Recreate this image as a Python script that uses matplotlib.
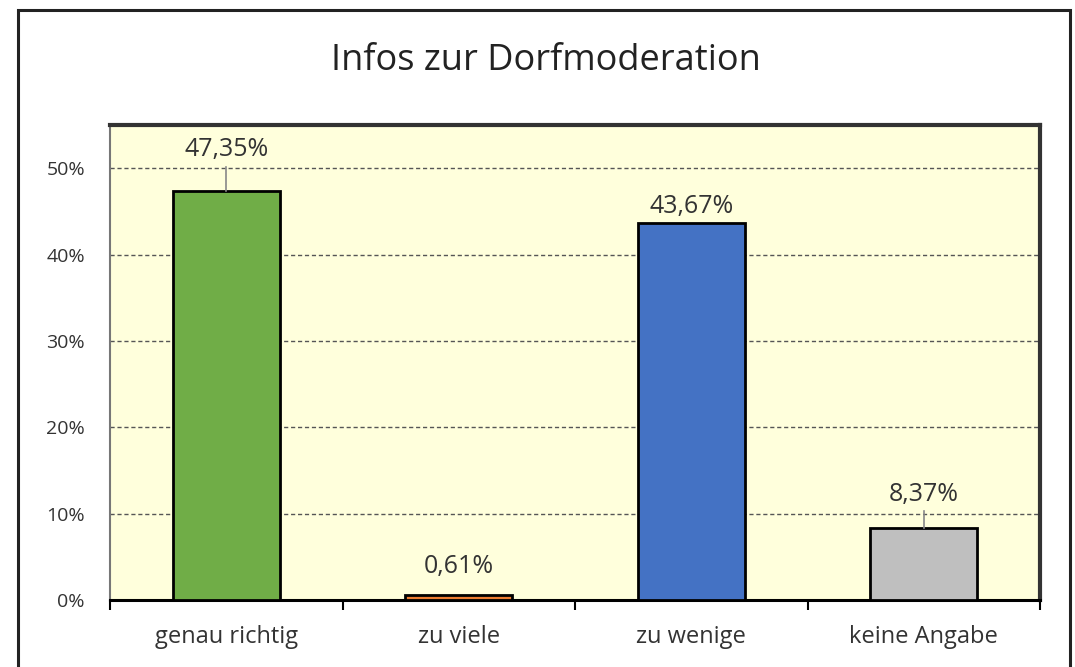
import matplotlib.pyplot as plt
from matplotlib.patches import Rectangle
from matplotlib.ticker import FuncFormatter

categories = ["genau richtig", "zu viele", "zu wenige", "keine Angabe"]
values = [47.35, 0.61, 43.67, 8.37]
bar_colors = ["#70ad47", "#ed7d31", "#4472c4", "#bfbfbf"]
# label offsets above the bar tops (in %)
label_offsets = [4.8, 3.3, 1.9, 3.9]

plt.rcParams["font.family"] = ["Open Sans", "DejaVu Sans"]

fig = plt.figure(figsize=(10.75, 6.67), dpi=100)

# outer chart frame
frame = Rectangle((18 / 1075, -0.05), 1052 / 1075, 1.05 - 10 / 667,
                  transform=fig.transFigure, fill=False,
                  edgecolor="#222222", linewidth=2.2)
fig.patches.append(frame)

fig.text(0.508, 1 - 61 / 667, "Infos zur Dorfmoderation", ha="center",
         va="center", fontsize=26, color="#222222")

ax = fig.add_axes([110 / 1075, 1 - 600 / 667, 930 / 1075, 475 / 667])
ax.set_facecolor("#ffffdc")

x = range(len(categories))
ax.bar(x, values, width=0.46, color=bar_colors, edgecolor="black",
       linewidth=2, zorder=3)

ax.set_xlim(-0.5, len(categories) - 0.5)
ax.set_ylim(0, 55)
ax.set_yticks([0, 10, 20, 30, 40, 50])
ax.yaxis.set_major_formatter(FuncFormatter(lambda v, p: f"{v:.0f}%"))
ax.grid(axis="y", linestyle=(0, (3, 2)), color="#555555", linewidth=1, zorder=1)
ax.tick_params(axis="y", length=0, labelsize=14, pad=18, labelcolor="#333333")

# category labels centered, ticks on boundaries
ax.set_xticks(list(x))
ax.set_xticklabels(categories, fontsize=17, color="#333333")
ax.tick_params(axis="x", which="major", length=0, pad=18)
ax.set_xticks([i - 0.5 for i in range(len(categories) + 1)], minor=True)
ax.tick_params(axis="x", which="minor", length=7, width=1.5, direction="out",
               color="black")

for side in ["top", "right"]:
    ax.spines[side].set_color("#333333")
    ax.spines[side].set_linewidth(3)
ax.spines["left"].set_color("#777777")
ax.spines["left"].set_linewidth(1.5)
ax.spines["bottom"].set_color("black")
ax.spines["bottom"].set_linewidth(2.2)

for i, (v, off) in enumerate(zip(values, label_offsets)):
    label = f"{v:.2f}%".replace(".", ",")
    ax.text(i, v + off, label, ha="center", va="center", fontsize=18,
            color="#333333", zorder=5)
    if off > 3.5:
        ax.plot([i, i], [v, v + off - 2.0], color="#888888", linewidth=1.2,
                zorder=4)

fig.savefig("out.png", dpi=100)
